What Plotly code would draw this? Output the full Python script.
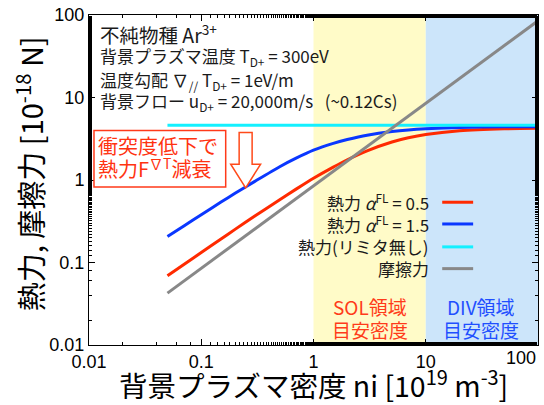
import plotly.graph_objects as go

# ---------------- data ----------------
n_grid = [0.05, 0.07, 0.1, 0.15, 0.2, 0.3, 0.5, 0.7, 1, 1.5, 2, 3, 5, 7, 10, 20, 50, 100]
f_a05 = [0.069, 0.0947, 0.132, 0.193, 0.252, 0.365, 0.578, 0.775, 1.05, 1.435, 1.76, 2.26,
         2.89, 3.25, 3.56, 3.95, 4.17, 4.23]
f_a15 = [0.206, 0.277, 0.379, 0.540, 0.690, 0.963, 1.45, 1.84, 2.30, 2.78, 3.09, 3.49,
         3.87, 4.05, 4.18, 4.33, 4.41, 4.43]

n_nolim = [0.05, 100]
f_nolim = [4.6, 4.6]

n_fric = [0.05, 100]
f_fric = [0.0425, 85]

x_tickvals = [0.01, 0.1, 1, 10, 100]
x_ticktext = ["0.01", "0.1", "1", "10", ""]
y_tickvals = [0.01, 0.1, 1, 10, 100]
y_ticktext = ["0.01", "0.1", "1", "10", "100"]

sol_range = [1, 10]
div_range = [10, 100]

legend_labels = ["熱力 <i>α</i><sup>FL</sup> = 0.5", "熱力 <i>α</i><sup>FL</sup> = 1.5",
                 "熱力(リミタ無し)", "摩擦力"]
colors = ["#FF2A00", "#0A37FF", "#14F0FF", "#888888"]

# ---------------- layout helpers ----------------
W, H = 544, 405
L, R, T, B = 89, 539, 11, 345


def px(x):
    return (x - L) / (R - L)


def py(y):
    return (B - y) / (B - T)


CJK = "Noto Sans CJK JP"
TICKF = "Liberation Sans"

fig = go.Figure()
series = [(n_grid, f_a05), (n_grid, f_a15), (n_nolim, f_nolim), (n_fric, f_fric)]
for (xs, ys), c, name in zip(series, colors, legend_labels):
    fig.add_trace(go.Scatter(x=xs, y=ys, mode="lines", name=name,
                             line=dict(color=c, width=3, shape="spline", smoothing=0.6),
                             showlegend=False, hoverinfo="skip"))

shapes = [
    dict(type="rect", xref="x", yref="paper", x0=sol_range[0], x1=sol_range[1], y0=0, y1=1,
         fillcolor="rgb(255,251,200)", line=dict(width=0), layer="below"),
    dict(type="rect", xref="x", yref="paper", x0=div_range[0], x1=div_range[1], y0=0, y1=1,
         fillcolor="rgb(204,229,250)", line=dict(width=0), layer="below"),
    # red box
    dict(type="rect", xref="paper", yref="paper", x0=px(94), x1=px(226), y0=py(185), y1=py(128),
         fillcolor="white", line=dict(color="#FF3A1A", width=1.5), layer="above"),
]
# hollow down arrow
pts = [(239.5, 130), (252.5, 130), (252.5, 162), (261, 162), (246, 186), (231, 162), (239.5, 162)]
path = "M " + " L ".join(f"{px(a):.4f},{py(b):.4f}" for a, b in pts) + " Z"
shapes.append(dict(type="path", xref="paper", yref="paper", path=path, fillcolor="white",
                   line=dict(color="#FF4A1A", width=1.5), layer="above"))

# legend line samples
leg_rows = [200.5, 222.5, 245.7, 267.7]
for yrow, c in zip(leg_rows, colors):
    shapes.append(dict(type="line", xref="paper", yref="paper", x0=px(443), x1=px(474),
                       y0=py(yrow), y1=py(yrow), line=dict(color=c, width=3), layer="above"))

ann = []
txtc = "#1a1a1a"
# header text
ann.append(dict(text="不純物種 Ar<sup>3+</sup>", x=px(98), y=py(30), font=dict(size=19.5, color=txtc, family=CJK)))
ann.append(dict(text="背景プラズマ温度 T<sub>D+</sub> = 300eV", x=px(98), y=py(53), font=dict(size=17, color=txtc, family=CJK)))
ann.append(dict(text="温度勾配 ∇<sub>//</sub> T<sub>D+</sub> = 1eV/m", x=px(98), y=py(77), font=dict(size=17, color=txtc, family=CJK)))
ann.append(dict(text="背景フロー u<sub>D+</sub> = 20,000m/s   (~0.12Cs)", x=px(98), y=py(99), font=dict(size=17, color=txtc, family=CJK)))
for a in ann:
    a.update(xref="paper", yref="paper", xanchor="left", yanchor="middle", showarrow=False)

red_txt = "#FF3311"
ann.append(dict(text="衝突度低下で", x=px(96), y=py(143), xref="paper", yref="paper", xanchor="left",
                yanchor="middle", showarrow=False, font=dict(size=20, color=red_txt, family=CJK)))
ann.append(dict(text="熱力F<sup>∇T</sup>減衰", x=px(96), y=py(166), xref="paper", yref="paper", xanchor="left",
                yanchor="middle", showarrow=False, font=dict(size=20, color=red_txt, family=CJK)))

# legend texts
for yrow, lab in zip(leg_rows, legend_labels):
    ann.append(dict(text=lab, x=px(432), y=py(yrow), xref="paper", yref="paper", xanchor="right",
                    yanchor="middle", showarrow=False, font=dict(size=17, color=txtc, family=CJK)))

# region labels
ann.append(dict(text="SOL領域", x=px(371), y=py(306.5), font=dict(size=19, color="#FF3B1A", family=CJK)))
ann.append(dict(text="目安密度", x=px(371), y=py(329.5), font=dict(size=19, color="#FF3B1A", family=CJK)))
ann.append(dict(text="DIV領域", x=px(482), y=py(306.5), font=dict(size=19, color="#1F4FFF", family=CJK)))
ann.append(dict(text="目安密度", x=px(482), y=py(329.5), font=dict(size=19, color="#1F4FFF", family=CJK)))
for a in ann[-4:]:
    a.update(xref="paper", yref="paper", xanchor="center", yanchor="middle", showarrow=False)

# "100" x tick label (right aligned at edge)
ann.append(dict(text="100", x=1.0, y=py(358), xref="paper", yref="paper", xanchor="right", yanchor="middle",
                showarrow=False, font=dict(size=18, color="black", family=TICKF)))

# axis titles
ann.append(dict(text="背景プラズマ密度 ni [10<sup>19</sup> m<sup>-3</sup>]", x=px(314), y=py(384),
                xref="paper", yref="paper", xanchor="center", yanchor="middle", showarrow=False,
                font=dict(size=28.5, color="black", family=CJK)))
ann.append(dict(text="熱力, 摩擦力 [10<sup>-18</sup> N]", x=px(29), y=py(172), textangle=-90,
                xref="paper", yref="paper", xanchor="center", yanchor="middle", showarrow=False,
                font=dict(size=29, color="black", family=CJK)))

axis_common = dict(type="log", showline=True, linecolor="black", linewidth=1, mirror="allticks",
                   ticks="inside", ticklen=6, tickcolor="black", showgrid=False, zeroline=False,
                   tickfont=dict(size=18, color="black", family=TICKF),
                   minor=dict(ticks="inside", ticklen=3, tickcolor="black", showgrid=False))

fig.update_layout(
    width=W, height=H,
    margin=dict(l=L, r=W - R, t=T, b=H - B),
    paper_bgcolor="white", plot_bgcolor="white",
    showlegend=False,
    shapes=shapes, annotations=ann,
    xaxis=dict(range=[-2, 2], tickvals=x_tickvals, ticktext=x_ticktext, **axis_common),
    yaxis=dict(range=[-2, 2], tickvals=y_tickvals, ticktext=y_ticktext, **axis_common),
)

fig.write_html("out.html", config={"displayModeBar": False},
               post_script="document.body.style.margin='0px';document.body.style.overflow='hidden';")
